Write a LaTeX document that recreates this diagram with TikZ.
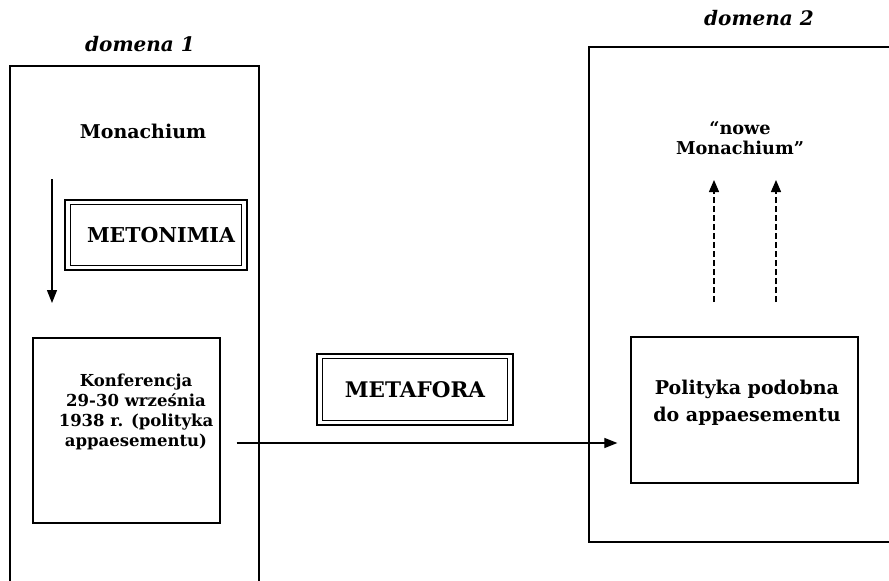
\documentclass[tikz,border=0pt]{standalone}
\usepackage{fontspec}
\setmainfont{DejaVu Serif}
\usetikzlibrary{arrows.meta}
\tikzset{
  frame/.style={line width=1.3pt},
  txt/.style={font=\bfseries, align=center, inner sep=0pt},
  ttl/.style={font=\fontsize{20}{22}\selectfont\bfseries\itshape, inner sep=0pt},
  inbox/.style={draw, line width=1.3pt, inner sep=0pt},
  arr/.style={line width=1.2pt, -{Triangle[length=13pt,width=10pt]}},
  darr/.style={line width=1.3pt, dash pattern=on 6pt off 3pt, -{Triangle[length=12pt,width=10pt]}}
}
\begin{document}
\begin{tikzpicture}[x=1pt,y=-1pt]
\useasboundingbox (0,0) rectangle (889,581);
\begin{scope}
\clip (0,0) rectangle (889,581);
% domain frames
\draw[frame] (10,590) -- (10,66) -- (259,66) -- (259,590);
\draw[frame] (900,47) -- (589,47) -- (589,542) -- (900,542);
\end{scope}
% titles
\node[ttl] (d1) at (140,44) {domena 1};
\node[ttl] (d2) at (759,18) {domena 2};
% left domain
\node[txt, font=\fontsize{19}{22}\selectfont\bfseries] (mon) at (143,131) {Monachium};
\node[inbox, line width=2.4pt, minimum width=182pt, minimum height=70pt] (metoout) at (156,235) {};
\node[inbox, line width=0.9pt, minimum width=171pt, minimum height=61pt] (meto) at (156,235) {};
\node[txt, font=\fontsize{20.5}{22}\selectfont\bfseries] (metot) at (161,235) {METONIMIA};
\node[inbox, minimum width=187pt, minimum height=185pt] (konf) at (126.5,430.5) {};
\node[txt, font=\fontsize{16.5}{20}\selectfont\bfseries] (konft) at (136,412) {Konferencja\\29-30 września\\1938 r. (polityka\\appaesementu)};
\coordinate (mtop) at (52,179);
\coordinate (mbot) at (52,303);
\draw[arr] (mtop) -- (mbot);
% metafora
\node[inbox, line width=2.4pt, minimum width=196pt, minimum height=71pt] (metaout) at (415,389.5) {};
\node[inbox, line width=0.9pt, minimum width=185pt, minimum height=62pt] (meta) at (415,389.5) {};
\node[txt, font=\fontsize{21.5}{22}\selectfont\bfseries] (metat) at (415,390) {METAFORA};
% right domain
\node[inbox, minimum width=227pt, minimum height=146pt] (pol) at (744.5,410) {};
\node[txt, font=\fontsize{19}{27}\selectfont\bfseries] (polt) at (747,403) {Polityka podobna\\do appaesementu};
\node[txt, font=\fontsize{17.7}{20}\selectfont\bfseries] (nowe) at (740,138) {“nowe\\Monachium”};
\coordinate (a1s) at (714,302);
\coordinate (a1e) at (714,180);
\coordinate (a2s) at (776,302);
\coordinate (a2e) at (776,180);
\draw[darr] (a1s) -- (a1e);
\draw[darr] (a2s) -- (a2e);
% metaphor arrow
\draw[arr] ([xshift=16pt]konf.east |- 0,443) -- ([xshift=-13pt]pol.west |- 0,443);
\end{tikzpicture}
\end{document}
